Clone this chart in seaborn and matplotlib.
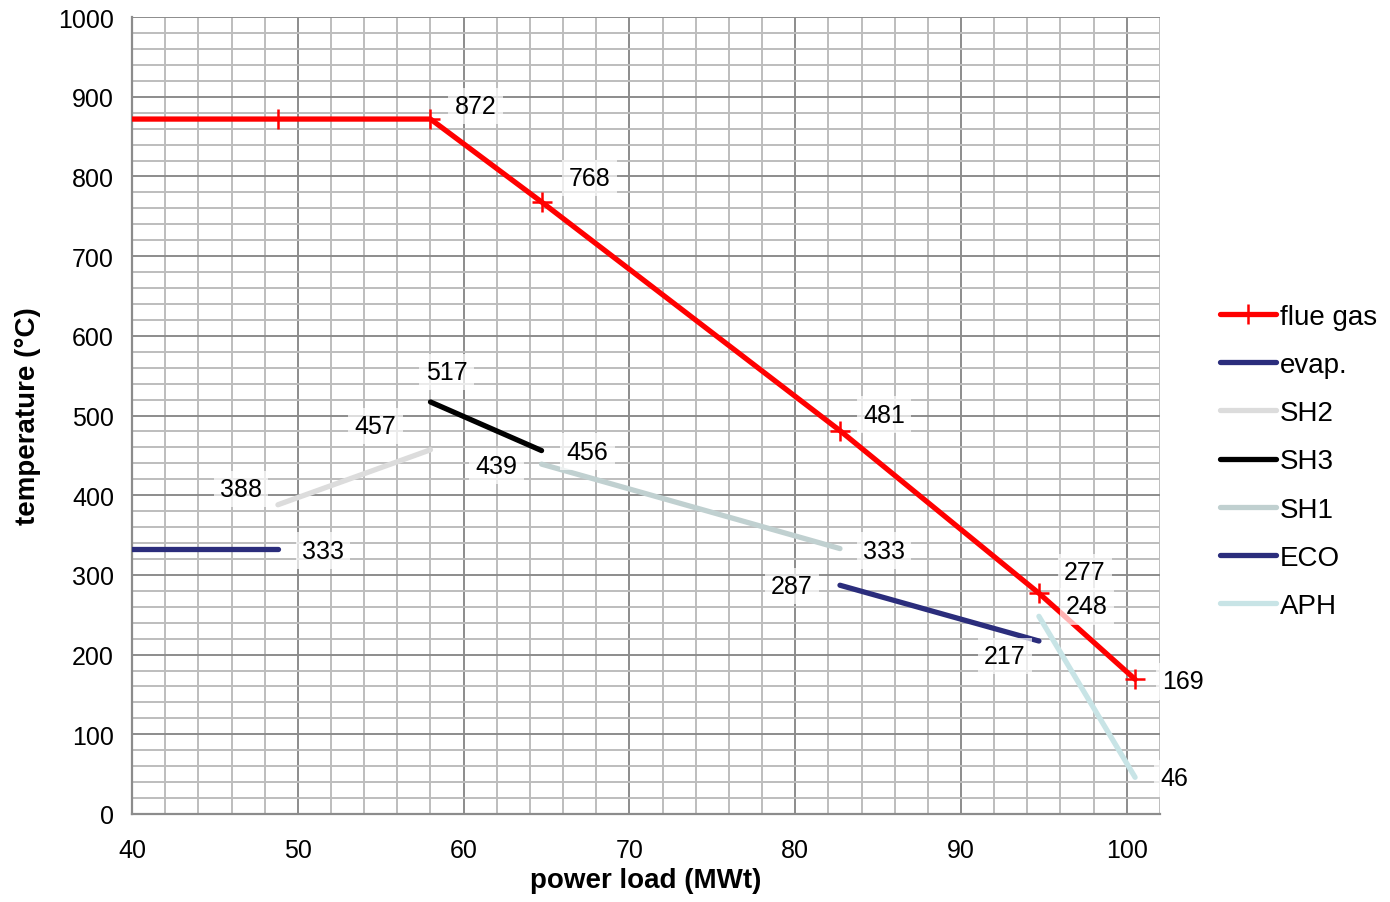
import numpy as np
import pandas as pd
import matplotlib
matplotlib.use('Agg')
import matplotlib.pyplot as plt
from matplotlib.lines import Line2D
from matplotlib.ticker import MultipleLocator
import seaborn as sns

sns.set_style('white')
plt.rcParams['font.family'] = ['Liberation Sans', 'DejaVu Sans']

# load points (MWt) where the heat exchangers start/end
load = [40, 48.8, 58.0, 64.7, 82.7, 94.7, 100.5]
flue_gas = [872, 872, 872, 768, 481, 277, 169]

'''water/steam side segments: x pair, temperature pair'''
evap_x, evap_t = [40, 48.8], [333, 333]
sh2_x, sh2_t = [48.8, 58.0], [388, 457]
sh3_x, sh3_t = [58.0, 64.7], [517, 456]
sh1_x, sh1_t = [64.7, 82.7], [439, 333]
eco_x, eco_t = [82.7, 94.7], [287, 217]
aph_x, aph_t = [94.7, 100.5], [248, 46]

series = [('evap.', evap_x, evap_t, '#2b2d7c'),
          ('SH2', sh2_x, sh2_t, '#dcdcdc'),
          ('SH3', sh3_x, sh3_t, '#000000'),
          ('SH1', sh1_x, sh1_t, '#c0d0d0'),
          ('ECO', eco_x, eco_t, '#2b2d7c'),
          ('APH', aph_x, aph_t, '#c8e4e6')]
LW = 3.8

fig = plt.figure(figsize=(13.9, 9.03), dpi=100)
ax = fig.add_axes([0.095, 0.0975, 0.7395, 0.8825])

fg = pd.DataFrame({'load': load, 'T': flue_gas})
# first point sits on the axis edge, no marker shown there
sns.lineplot(data=fg, x='load', y='T', ax=ax, color='#ff0000', linewidth=LW,
             marker='+', markersize=15, markeredgewidth=1.8, markeredgecolor='#ff0000',
             markevery=list(range(1, len(load))), zorder=4, sort=False)
for name, xs, ts, col in series:
    df = pd.DataFrame({'load': xs, 'T': ts})
    sns.lineplot(data=df, x='load', y='T', ax=ax, color=col, linewidth=LW,
                 zorder=3, sort=False, solid_capstyle='round')
for ln in ax.get_lines():
    ln.set_linewidth(LW)

'''value labels: (x, y, offset in pixels)'''
labels = [(58.0, 872, 45, 13), (64.7, 768, 48, 24), (82.7, 481, 44, 16),
          (94.7, 277, 46, 21), (100.5, 169, 48, -2),
          (48.8, 333, 45, -2), (48.8, 388, -37, 16), (58.0, 457, -55, 24),
          (58.0, 517, 16, 30), (64.7, 456, 46, -1), (64.7, 439, -45, -2),
          (82.7, 333, 44, -2), (82.7, 287, -48, -1), (94.7, 217, -34, -15),
          (94.7, 248, 48, 10), (100.5, 46, 39, -1)]
for x, t, dx, dy in labels:
    ax.annotate(str(t), xy=(x, t), xytext=(dx, dy), textcoords='offset pixels',
                ha='center', va='center', fontsize=18, color='black', zorder=6,
                annotation_clip=False,
                bbox=dict(boxstyle='square,pad=0.25', fc='white', ec='none', alpha=0.7))

ax.set_xlim(40, 102)
ax.set_ylim(0, 1000)
ax.xaxis.set_major_locator(MultipleLocator(10))
ax.xaxis.set_minor_locator(MultipleLocator(2))
ax.yaxis.set_major_locator(MultipleLocator(100))
ax.yaxis.set_minor_locator(MultipleLocator(20))
ax.grid(which='major', color='#8c8c8c', lw=1.4, zorder=0)
ax.grid(which='minor', color='#bdbdbd', lw=1.4, zorder=0)
ax.set_axisbelow(True)

for s in ['top', 'right']:
    ax.spines[s].set_visible(False)
for s in ['left', 'bottom']:
    ax.spines[s].set_color('#8c8c8c')
    ax.spines[s].set_linewidth(1.6)
ax.tick_params(which='major', direction='out', length=7, width=1.4, color='#8c8c8c',
               labelsize=18, labelcolor='black', pad=6)
ax.tick_params(which='minor', length=0)
ax.tick_params(axis='x', pad=10)

ax.set_xlabel('power load (MWt)', fontsize=20, fontweight='bold', labelpad=4, color='black')
ax.set_ylabel('temperature (°C)', fontsize=20, fontweight='bold', labelpad=12, color='black')

handles = [Line2D([], [], color='#ff0000', lw=LW, marker='+', markersize=15,
                  markeredgewidth=1.8)]
handles += [Line2D([], [], color=s[3], lw=LW, solid_capstyle='round') for s in series]
names = ['flue gas'] + [s[0] for s in series]
fig.legend(handles, names, loc='center left', bbox_to_anchor=(0.878, 0.488),
           frameon=False, fontsize=20, handlelength=2.0, handletextpad=0.15,
           labelspacing=0.8, borderpad=0, borderaxespad=0, numpoints=1,
           labelcolor='black')

fig.savefig('out.png', dpi=100)
